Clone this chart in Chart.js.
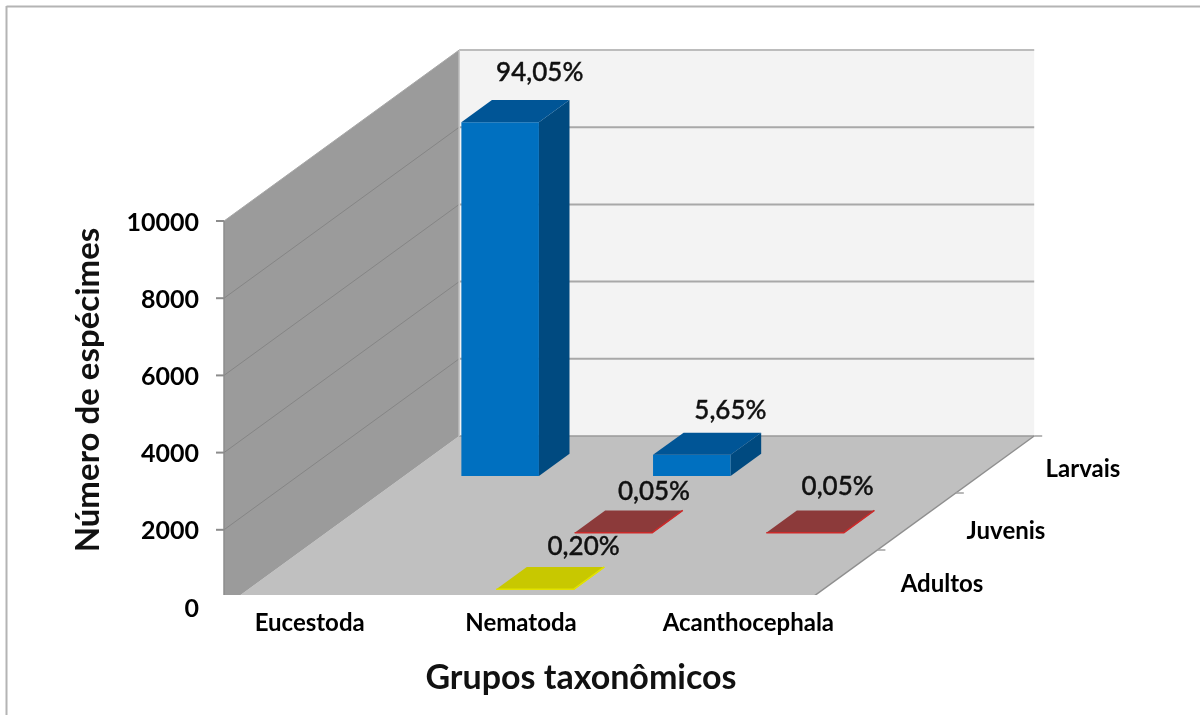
<!DOCTYPE html>
<html><head><meta charset="utf-8">
<style>html,body{margin:0;padding:0;background:#fff}canvas{display:block}</style>
<script src="https://cdn.jsdelivr.net/npm/chart.js@4"></script>
</head><body><canvas id="c" width="1200" height="715"></canvas>
<script>
const categories = ['Eucestoda','Nematoda','Acanthocephala'];
const seriesNames = ['Adultos','Juvenis','Larvais'];
const adultos = [null,20,null];
const juvenis = [null,5,5];
const larvais = [9160,545,null];
const adultosLabels = [null,'0,20%',null];
const juvenisLabels = [null,'0,05%','0,05%'];
const larvaisLabels = ['94,05%','5,65%',null];
const yTicks = [0,2000,4000,6000,8000,10000];
const yTitle = 'Número de espécimes';
const xTitle = 'Grupos taxonômicos';

const FONT = 'Lato, Carlito, sans-serif';
// oblique projection of the Excel-style 3D box
const OX = 224, FLOOR_W = 575, DX = 78.4, DY = 57, CLIP_Y = 595;
const faces = [
  {front:'#d8d800',top:'#c8c800',side:'#d8d800',edge:'#e2e200'},
  {front:'#c8242a',top:'#8c3a3a',side:'#c8242a',edge:'#cc2a2a'},
  {front:'#0070c0',top:'#005596',side:'#004a80',edge:null}
];
const labelSets = [adultosLabels,juvenisLabels,larvaisLabels];
const labelNudge = [
  [null,[18,-20],null],
  [null,[10,-19],[2,-24]],
  [[9,-27],[8,-22],null]
];
const rowLabelPos = [[942,584],[1006,531],[1083,469]];
function poly(ctx,pts,fill,stroke,lw){
  ctx.beginPath();pts.forEach((p,i)=>i?ctx.lineTo(p[0],p[1]):ctx.moveTo(p[0],p[1]));ctx.closePath();
  if(fill){ctx.fillStyle=fill;ctx.fill();}
  if(stroke){ctx.strokeStyle=stroke;ctx.lineWidth=lw||1;ctx.stroke();}
}
function seg(ctx,a,b,c,d,stroke,lw){ctx.beginPath();ctx.moveTo(a,b);ctx.lineTo(c,d);ctx.strokeStyle=stroke;ctx.lineWidth=lw;ctx.stroke();}

const box3d = {
  id:'box3d',
  beforeDraw(chart){
    const ctx=chart.ctx;
    ctx.save();ctx.fillStyle='#fff';ctx.fillRect(0,0,1200,715);
    seg(ctx,6.5,6.5,1200,6.5,'#b4b4b4',2);
    seg(ctx,6.5,6,6.5,715,'#b4b4b4',2);
    ctx.restore();
  },
  beforeDatasetsDraw(chart){
    const ctx=chart.ctx,y=chart.scales.y;
    const y0=y.getPixelForValue(0),yT=y.getPixelForValue(10000);
    const bx=OX+3*DX,by=3*DY;
    ctx.save();
    ctx.beginPath();ctx.rect(0,0,1200,CLIP_Y);ctx.clip();
    // back wall
    poly(ctx,[[bx,yT-by],[bx+FLOOR_W,yT-by],[bx+FLOOR_W,y0-by],[bx,y0-by]],'#f3f3f3');
    // floor
    poly(ctx,[[OX,y0],[OX+FLOOR_W,y0],[bx+FLOOR_W,y0-by],[bx,y0-by]],'#c0c0c0');
    // left wall
    poly(ctx,[[OX,yT],[bx,yT-by],[bx,y0-by],[OX,y0]],'#9b9b9b');
    yTicks.forEach(v=>{
      const p=y.getPixelForValue(v);
      if(v>0 && v<10000) seg(ctx,OX,p,bx,p-by,'#858585',1);
      if(v<10000) seg(ctx,bx,p-by,bx+FLOOR_W,p-by,v===0?'#9a9a9a':'#a8a8a8',v===0?1.5:2);
      seg(ctx,OX-8,p,OX,p,'#8c8c8c',2);
    });
    seg(ctx,bx,yT-by,bx+FLOOR_W,yT-by,'#bcbcbc',2);
    seg(ctx,bx,yT-by,bx,y0-by,'#c8c8c8',1.5);
    seg(ctx,OX,yT,bx,yT-by,'#a8a8a8',1);
    seg(ctx,OX,yT,OX,y0,'#8c8c8c',1.5);
    seg(ctx,OX+FLOOR_W,y0,bx+FLOOR_W,y0-by,'#8f8f8f',1.5);
    // depth axis ticks
    [1,2,3].forEach(k=>{
      const tx=OX+FLOOR_W+k*DX,ty=y0-k*DY;
      seg(ctx,tx,ty,tx+8,ty,'#a0a0a0',1.5);
    });
    ctx.restore();
  },
  beforeDatasetDraw(chart,args){
    const ctx=chart.ctx,i=args.index,meta=args.meta,xs=chart.scales.x,y=chart.scales.y;
    const f=faces[i];
    ctx.save();
    meta.data.forEach((el,k)=>{
      const v=chart.data.datasets[i].data[k];
      if(v===null||v===undefined) return;
      const u=(el.x-el.width/2-xs.left)/xs.width, w=el.width/xs.width*FLOOR_W;
      const z=i+0.3, d=0.39;
      const x1=OX+u*FLOOR_W+z*DX, x2=x1+w;
      const base=y.getPixelForValue(0)-z*DY, top=base-(y.getPixelForValue(0)-el.y);
      const ddx=d*DX, ddy=d*DY;
      poly(ctx,[[x1,base],[x2,base],[x2,top],[x1,top]],f.front);
      poly(ctx,[[x2,base],[x2+ddx,base-ddy],[x2+ddx,top-ddy],[x2,top]],f.side);
      poly(ctx,[[x1,top],[x2,top],[x2+ddx,top-ddy],[x1+ddx,top-ddy]],f.top);
      if(f.edge){
        ctx.beginPath();ctx.moveTo(x1,top);ctx.lineTo(x2,top);ctx.lineTo(x2+ddx,top-ddy);
        ctx.strokeStyle=f.edge;ctx.lineWidth=1.5;ctx.stroke();
      }
      const t=labelSets[i][k],n=labelNudge[i][k];
      if(t){
        ctx.fillStyle='#111';ctx.strokeStyle='#111';ctx.lineWidth=0.4;
        ctx.font='500 26px '+FONT;ctx.textAlign='center';ctx.textBaseline='middle';
        ctx.fillText(t,x1+ddx+w/2+n[0],top-ddy+n[1]);
        ctx.strokeText(t,x1+ddx+w/2+n[0],top-ddy+n[1]);
      }
    });
    ctx.restore();
    return false;
  },
  afterDraw(chart){
    const ctx=chart.ctx;
    ctx.save();
    ctx.fillStyle='#000';ctx.textAlign='center';ctx.textBaseline='middle';
    ctx.font='bold 24px '+FONT;
    seriesNames.forEach((s,i)=>ctx.fillText(s,rowLabelPos[i][0],rowLabelPos[i][1]));
    ctx.font='bold 34px '+FONT;ctx.fillStyle='#111';
    ctx.fillText(xTitle,581,678);
    ctx.font='bold 33px '+FONT;
    ctx.translate(88,390);ctx.rotate(-Math.PI/2);
    ctx.fillText(yTitle,0,0);
    ctx.restore();
  }
};
const tickShift=[0,-8,0];
new Chart(document.getElementById('c'),{
  type:'bar',
  data:{labels:categories,datasets:[
    {label:seriesNames[0],data:adultos,backgroundColor:faces[0].top},
    {label:seriesNames[1],data:juvenis,backgroundColor:faces[1].top},
    {label:seriesNames[2],data:larvais,backgroundColor:faces[2].front}
  ]},
  options:{
    responsive:false,animation:false,
    layout:{padding:{top:221,right:342,left:0,bottom:0}},
    datasets:{bar:{grouped:false,barPercentage:0.42,categoryPercentage:1}},
    plugins:{legend:{display:false},tooltip:{enabled:false},title:{display:false}},
    scales:{
      x:{
        type:'category',
        grid:{display:false,drawTicks:false},border:{display:false},
        ticks:{color:'#000',font:{family:FONT,weight:'bold',size:24},padding:2,autoSkip:false,maxRotation:0,minRotation:0},
        afterDataLimits(s){
          const o=s.getPixelForTick;
          s.getPixelForTick=function(i){return o.call(this,i)+(tickShift[i]||0);};
        },
        afterFit(s){s.height=108;}
      },
      y:{
        min:0,max:10000,
        afterBuildTicks(s){s.ticks=yTicks.map(v=>({value:v}));},
        grid:{display:false,drawTicks:false},border:{display:false},
        ticks:{color:'#000',font:{family:FONT,weight:'bold',size:25},padding:1,labelOffset:1.5,callback:v=>String(v)},
        afterFit(s){s.width=200;}
      }
    }
  },
  plugins:[box3d]
});
</script></body></html>
